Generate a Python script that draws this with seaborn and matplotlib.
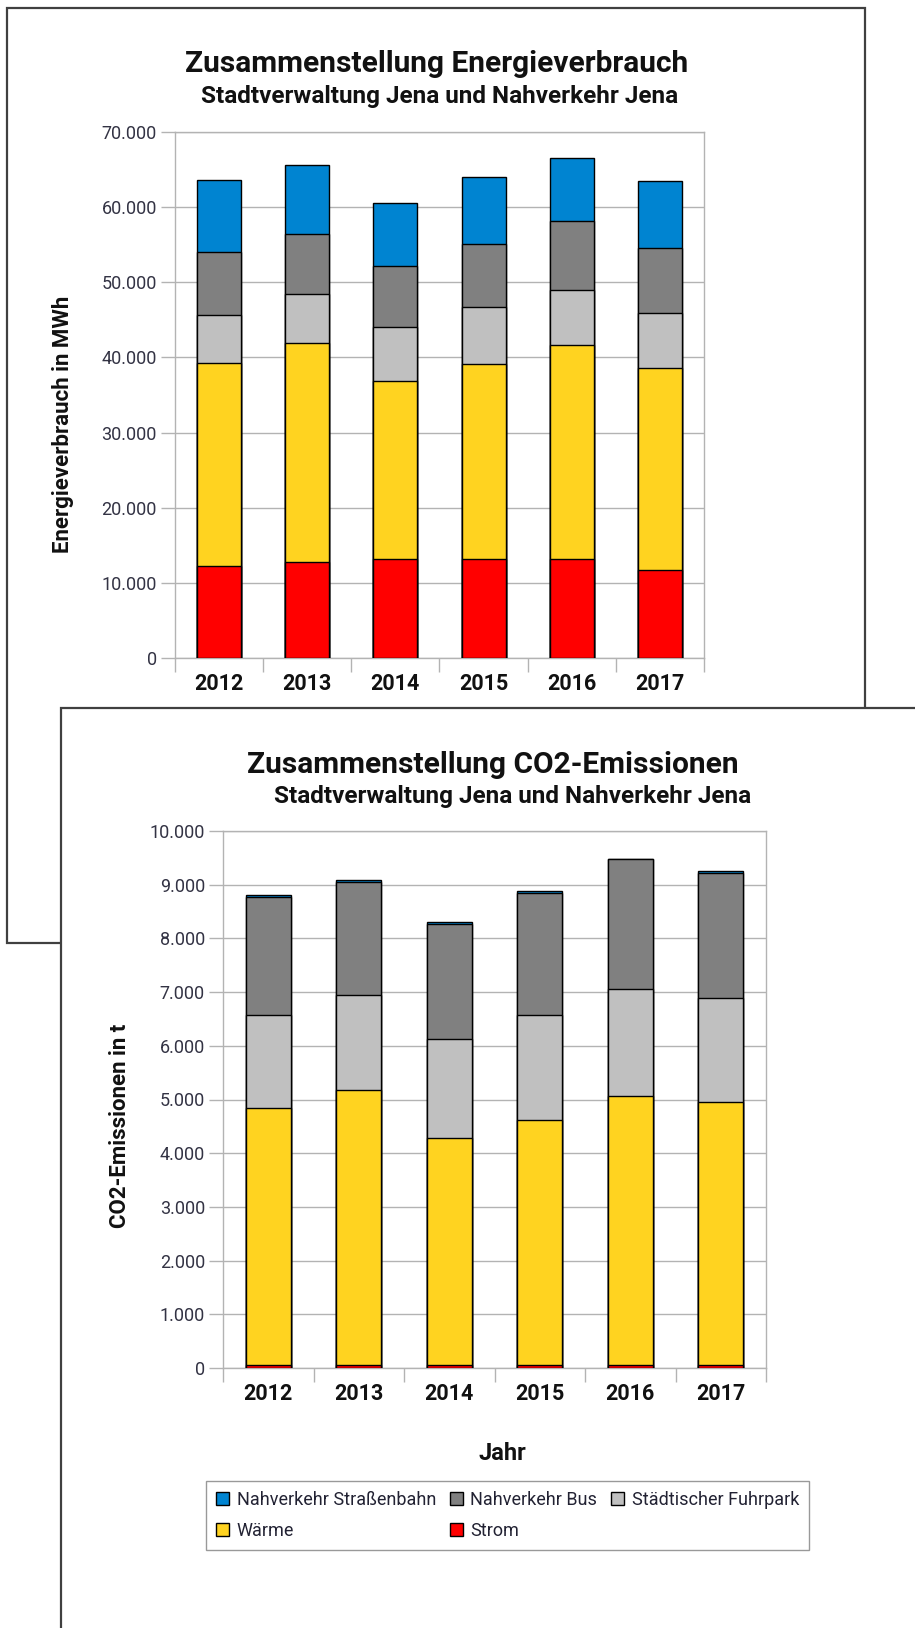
import matplotlib
matplotlib.use("Agg")
import matplotlib.pyplot as plt
import matplotlib.patches as mpatches
import matplotlib.ticker as mticker
import seaborn as sns
import pandas as pd
import numpy as np

sns.set_theme(style="white")
plt.rcParams['font.family'] = ['Roboto', 'DejaVu Sans']

years = ["2012", "2013", "2014", "2015", "2016", "2017"]
series = ["Nahverkehr Straßenbahn", "Nahverkehr Bus", "Städtischer Fuhrpark", "Wärme", "Strom"]
colors = {"Nahverkehr Straßenbahn": "#0084d1", "Nahverkehr Bus": "#808080",
          "Städtischer Fuhrpark": "#c0c0c0", "Wärme": "#ffd320", "Strom": "#ff0000"}

# Energy consumption in MWh
energy_strom = [12300, 12830, 13190, 13190, 13190, 11660]
energy_waerme = [27000, 29130, 23670, 25960, 28410, 26880]
energy_fuhrpark = [6400, 6540, 7180, 7540, 7330, 7340]
energy_bus = [8300, 7970, 8100, 8450, 9220, 8700]
energy_tram = [9600, 9130, 8460, 8860, 8450, 8860]

# CO2 emissions in t
co2_strom = [60, 60, 60, 60, 60, 60]
co2_waerme = [4790, 5120, 4230, 4560, 5000, 4900]
co2_fuhrpark = [1730, 1760, 1840, 1960, 1990, 1930]
co2_bus = [2190, 2110, 2140, 2270, 2430, 2330]
co2_tram = [35, 35, 30, 30, 5, 30]

W, H = 915, 1628
fig = plt.figure(figsize=(W / 100, H / 100), dpi=100)

def fx(x):
    return x / W

def fy(y):
    return 1 - y / H

border_col = "#404040"
# Panels
p1 = mpatches.Rectangle((fx(7), fy(943)), fx(865) - fx(7), fy(8) - fy(943),
                        transform=fig.transFigure, facecolor="white",
                        edgecolor=border_col, linewidth=1.6, zorder=-3)
p2 = mpatches.Rectangle((fx(61), fy(1640)), fx(930) - fx(61), fy(708) - fy(1640),
                        transform=fig.transFigure, facecolor="white",
                        edgecolor=border_col, linewidth=1.6, zorder=-2)
fig.add_artist(p1)
fig.add_artist(p2)


def stacked(ax, layers, ymax, step, ylabel):
    # layers: bottom -> top list of (name, values)
    cum = np.zeros(len(years))
    cums = []
    for name, vals in layers:
        cum = cum + np.array(vals, dtype=float)
        cums.append((name, cum.copy()))
    # draw tallest first so smaller cumulative bars overlay
    for name, c in reversed(cums):
        df = pd.DataFrame({"Jahr": years, "Wert": c})
        sns.barplot(data=df, x="Jahr", y="Wert", color=colors[name], width=0.5,
                    edgecolor="black", linewidth=1.0, saturation=1, ax=ax, zorder=3)
    ax.set_xlim(-0.5, len(years) - 0.5)
    ax.set_ylim(0, ymax)
    ax.yaxis.set_major_locator(mticker.MultipleLocator(step))
    ax.yaxis.set_major_formatter(mticker.FuncFormatter(lambda v, p: f"{int(v):,}".replace(",", ".")))
    ax.grid(axis="y", color="#b3b3b3", linewidth=1.0, zorder=0)
    ax.set_axisbelow(True)
    for s in ax.spines.values():
        s.set_color("#b3b3b3")
        s.set_linewidth(1.0)
    ax.tick_params(axis="y", which="major", length=10, color="#b3b3b3", width=1.0,
                   labelsize=13, labelcolor="#333344", pad=3, left=True)
    # x ticks between categories
    ax.set_xticks(np.arange(len(years)))
    ax.set_xticklabels(years, fontsize=15.5, fontweight="bold", color="#111111")
    ax.tick_params(axis="x", which="major", length=0, pad=11)
    ax.set_xticks(np.arange(len(years) + 1) - 0.5, minor=True)
    ax.tick_params(axis="x", which="minor", length=10, color="#b3b3b3", width=1.0, bottom=True)
    ax.set_xlabel("")
    ax.set_ylabel(ylabel, fontsize=16, fontweight="bold", color="#111111")


ax1 = fig.add_axes([fx(175), fy(658), fx(704) - fx(175), fy(132) - fy(658)], zorder=1)
stacked(ax1, [("Strom", energy_strom), ("Wärme", energy_waerme),
              ("Städtischer Fuhrpark", energy_fuhrpark), ("Nahverkehr Bus", energy_bus),
              ("Nahverkehr Straßenbahn", energy_tram)], 70000, 10000,
        "Energieverbrauch in MWh")
ax1.yaxis.set_label_coords((74 - 175) / (704 - 175), 0.445)

ax2 = fig.add_axes([fx(223), fy(1368), fx(766) - fx(223), fy(831) - fy(1368)], zorder=1)
stacked(ax2, [("Strom", co2_strom), ("Wärme", co2_waerme),
              ("Städtischer Fuhrpark", co2_fuhrpark), ("Nahverkehr Bus", co2_bus),
              ("Nahverkehr Straßenbahn", co2_tram)], 10000, 1000,
        "CO2-Emissionen in t")
ax2.yaxis.set_label_coords((131 - 223) / (766 - 223), 0.45)

# Titles
fig.text(fx(437), fy(64), "Zusammenstellung Energieverbrauch", ha="center", va="center",
         fontsize=21.5, fontweight="bold", color="#111111")
fig.text(fx(440), fy(96), "Stadtverwaltung Jena und Nahverkehr Jena", ha="center", va="center",
         fontsize=17.5, fontweight="bold", color="#111111")
fig.text(fx(493), fy(765), "Zusammenstellung CO2-Emissionen", ha="center", va="center",
         fontsize=21.5, fontweight="bold", color="#111111")
fig.text(fx(513), fy(797), "Stadtverwaltung Jena und Nahverkehr Jena", ha="center", va="center",
         fontsize=17.5, fontweight="bold", color="#111111")
fig.text(fx(502), fy(1454), "Jahr", ha="center", va="center",
         fontsize=17, fontweight="bold", color="#111111")

# Legend
order = ["Nahverkehr Straßenbahn", "Wärme", "Nahverkehr Bus", "Strom", "Städtischer Fuhrpark"]
handles = [mpatches.Patch(facecolor=colors[n], edgecolor="black", linewidth=1.0, label=n) for n in order]
leg = fig.legend(handles=handles, loc="upper left", bbox_to_anchor=(fx(206), fy(1481)),
                 ncol=3, frameon=True, fancybox=False, fontsize=13,
                 handlelength=0.75, handleheight=0.75, handletextpad=0.4,
                 columnspacing=0.75, borderpad=0.55, labelspacing=0.7,
                 borderaxespad=0)
leg.get_frame().set_edgecolor("#808080")
leg.get_frame().set_linewidth(1.0)
for t in leg.get_texts():
    t.set_color("#222233")

fig.savefig("out.png", dpi=100)
